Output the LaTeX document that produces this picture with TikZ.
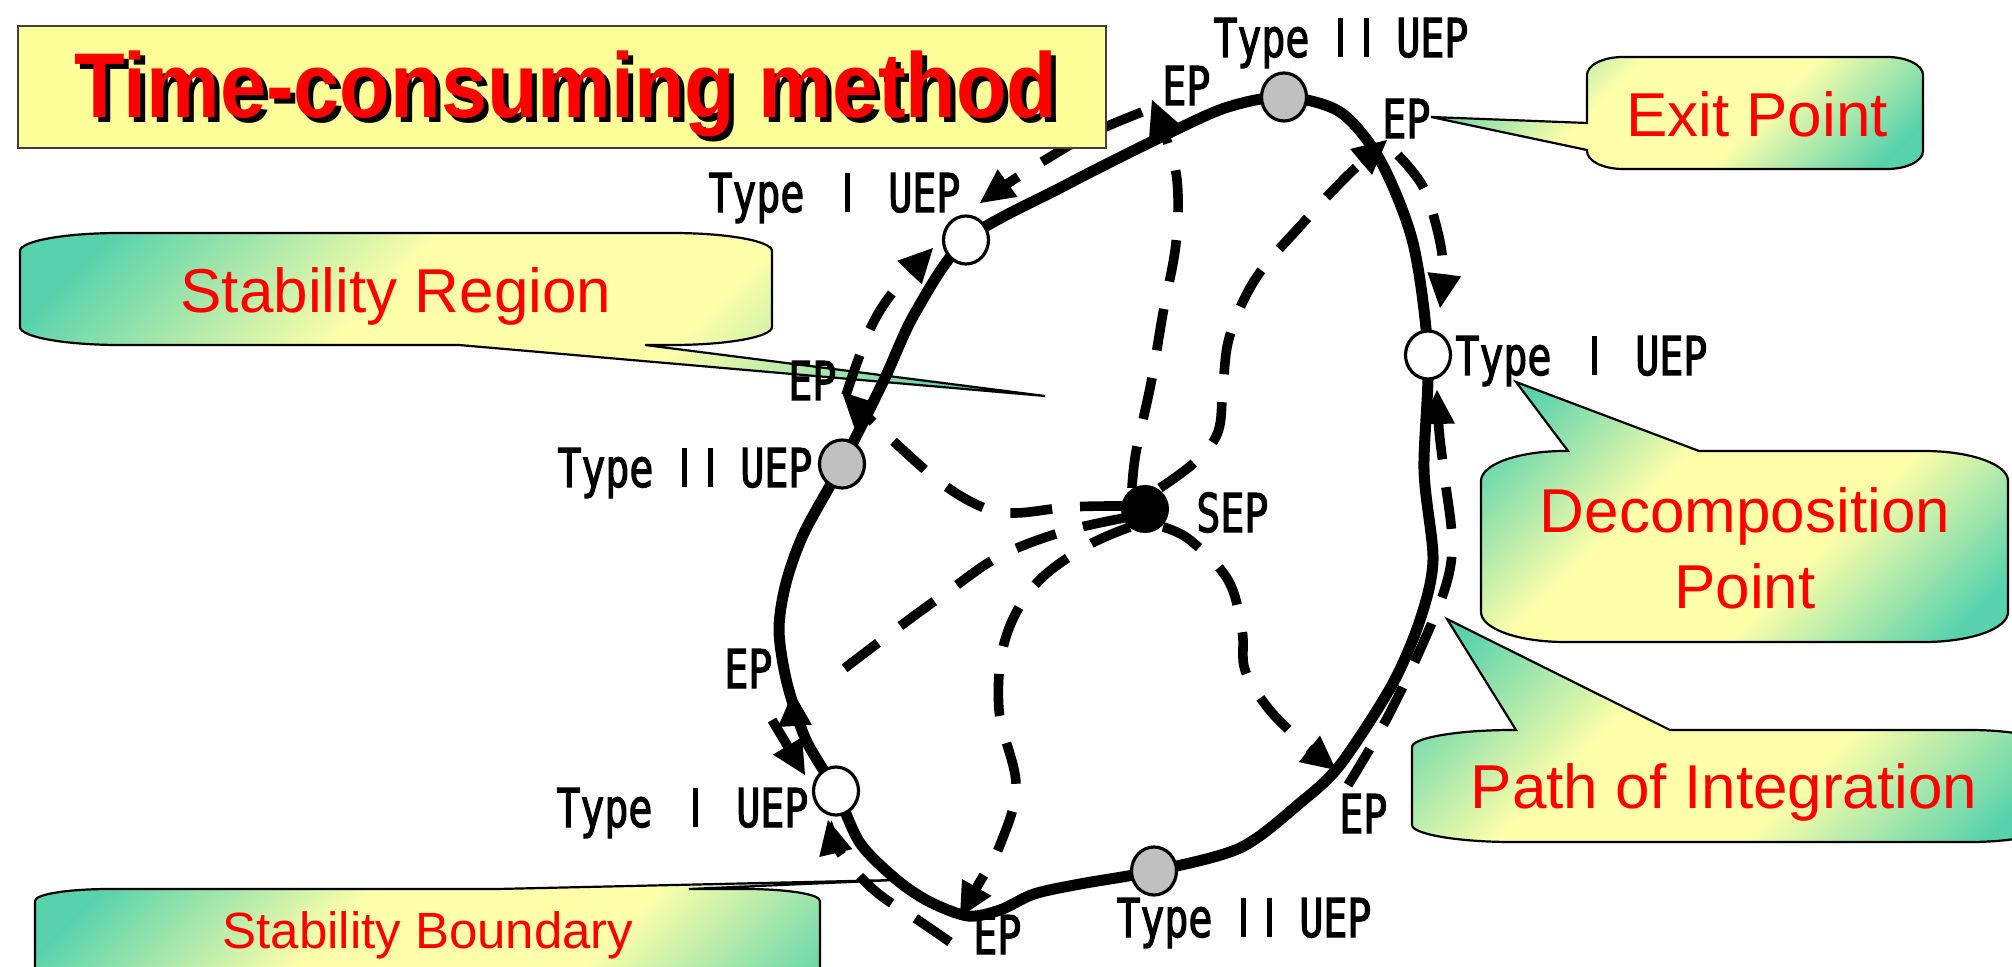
\documentclass[tikz,border=0pt]{standalone}
\usepackage{fontspec}
\setmainfont{Liberation Sans}
\newfontfamily\labelfont[FakeStretch=0.745,FakeBold=2]{DejaVu Sans Mono}
\newfontfamily\titlefont[FakeStretch=0.9]{Liberation Sans}
\usetikzlibrary{arrows.meta,shapes.geometric}
\definecolor{cteal}{RGB}{88,210,172}
\definecolor{cyel}{RGB}{255,255,170}
\definecolor{titlefill}{RGB}{255,255,153}
\definecolor{uepgray}{RGB}{192,192,192}
% teal corners, broad yellow middle
\pgfdeclareverticalshading{calshade}{100bp}{color(0bp)=(cteal); color(20bp)=(cteal);
  color(40bp)=(cyel); color(60bp)=(cyel); color(80bp)=(cteal); color(100bp)=(cteal)}
% plain upright bar used for the roman numeral in the labels
\newcommand{\romI}{\makebox[13pt]{\rule{2.8pt}{19.5pt}}}

\begin{document}
\begin{tikzpicture}[x=0.5pt, y=-0.5pt,
  boundary/.style={line width=5.5pt, line join=round},
  dashline/.style={line width=4.8pt, dash pattern=on 21pt off 14pt},
  tipped/.style={-{Triangle[length=17pt,width=17pt,line width=0pt]}},
  uepone/.style={ellipse, draw, line width=1.6pt, fill=white, minimum width=22.5pt, minimum height=24pt, inner sep=0pt},
  ueptwo/.style={uepone, fill=uepgray},
  sepdot/.style={ellipse, fill=black, minimum width=24pt, minimum height=24pt, inner sep=0pt},
  lbl/.style={font=\labelfont\fontsize{26.75pt}{30pt}\selectfont, inner sep=0pt, anchor=base west},
  calloutbox/.style={draw=black, line width=1.1pt, shading=calshade, shading angle=45},
  callouttext/.style={text=red, font=\fontsize{31pt}{38pt}\selectfont, inner sep=0pt, anchor=base},
  titletext/.style={anchor=base, inner sep=0pt, font=\titlefont\fontsize{46pt}{54pt}\selectfont\bfseries},
]
\clip (0,0) rectangle (2012,967);

% ---------- callouts ----------
\path[calloutbox] (1623,57) -- (1887,57) .. controls (1907,57) and (1923,65) .. (1923,75)
  -- (1923,151) .. controls (1923,161) and (1907,169) .. (1887,169) -- (1623,169)
  .. controls (1603,169) and (1587,161) .. (1587,151) -- (1587,150) -- (1431,117) -- (1587,123)
  -- (1587,75) .. controls (1587,65) and (1603,57) .. (1623,57) -- cycle;

\path[calloutbox] (120,233) -- (672,233) .. controls (727,233) and (772,241) .. (772,251)
  -- (772,327) .. controls (772,337) and (727,345) .. (672,345) -- (645,345) -- (1045,396)
  -- (459,345) -- (120,345) .. controls (65,345) and (20,337) .. (20,327)
  -- (20,251) .. controls (20,241) and (65,233) .. (120,233) -- cycle;

\path[calloutbox] (1565,451) -- (1568,451) -- (1516,382) -- (1699,451) -- (1924,451)
  .. controls (1970,451) and (2008,464) .. (2008,481) -- (2008,612)
  .. controls (2008,629) and (1970,642) .. (1924,642) -- (1565,642)
  .. controls (1519,642) and (1481,629) .. (1481,612) -- (1481,481)
  .. controls (1481,464) and (1519,451) .. (1565,451) -- cycle;

\path[calloutbox] (1512,730) -- (1516,730) -- (1447,619) -- (1670,730) -- (1970,730)
  .. controls (2014,730) and (2050,738) .. (2050,747) -- (2050,825)
  .. controls (2050,834) and (2014,842) .. (1970,842) -- (1512,842)
  .. controls (1457,842) and (1412,834) .. (1412,825) -- (1412,747)
  .. controls (1412,738) and (1457,730) .. (1512,730) -- cycle;

\path[calloutbox] (110,889) -- (497,889) -- (896,880) -- (689,889) -- (745,889)
  .. controls (786,889) and (820,894) .. (820,901) -- (820,988)
  .. controls (820,995) and (786,1000) .. (745,1000) -- (110,1000)
  .. controls (69,1000) and (35,995) .. (35,988) -- (35,901)
  .. controls (35,894) and (69,889) .. (110,889) -- cycle;

\node[callouttext] (exitT) at (1757,137) {Exit Point};
\node[callouttext] (regionT) at (396,313) {Stability Region};
\node[callouttext] (decompT) at (1745,532) {Decomposition};
\node[callouttext] (decompTb) at (1745,608) {Point};
\node[callouttext] (pathT) at (1724,808) {Path of Integration};
\node[callouttext, font=\fontsize{25.5pt}{30pt}\selectfont] (boundT) at (428,948) {Stability Boundary};

% ---------- equilibrium points ----------
\coordinate (sepc) at (1145,509);
\coordinate (epTL) at (1152,100);
\coordinate (epTR) at (1387,140);
\coordinate (epL) at (842,392);
\coordinate (epLL) at (793,692);
\coordinate (epB) at (960,917);
\coordinate (epBR) at (1336,770);
\coordinate (tipUL) at (980,203);
\coordinate (tipULb) at (933,248);
\coordinate (tipR) at (1440,308);
\coordinate (tipRb) at (1437,390);
\coordinate (tipLL) at (828,820);
\coordinate (tipLLb) at (805,775);

% ---------- integration paths from the SEP ----------
\draw[dashline,tipped] plot[smooth,tension=0.6] coordinates {(1132,488) (1136,452) (1151,383) (1163,313) (1176,243) (1177,180) (1165,135) (epTL)};
\draw[dashline,tipped] plot[smooth,tension=0.6] coordinates {(1160,488) (1195,462) (1218,432) (1223,385) (1230,335) (1256,278) (1303,223) (1348,175) (epTR)};
\draw[dashline,tipped] plot[smooth,tension=0.6] coordinates {(1122,506) (1070,507) (1015,513) (982,507) (940,482) (890,438) (epL)};
\draw[dashline] plot[smooth,tension=0.6] coordinates {(1124,518) (1062,532) (1000,556) (950,590) (895,630) (824,684)};
\draw[tipped] (795,726) -- (epLL);
\draw[dashline,tipped] plot[smooth,tension=0.6] coordinates {(1130,527) (1085,547) (1035,585) (1005,640) (999,710) (1016,785) (1000,845) (978,885) (epB)};
\draw[dashline,tipped] plot[smooth,tension=0.6] coordinates {(1163,527) (1190,540) (1228,580) (1242,630) (1245,670) (1268,708) (1300,740) (epBR)};

% ---------- paths sliding along the boundary to the type I UEPs ----------
\draw[dashline,tipped] plot[smooth,tension=0.6] coordinates {(1142,112) (1090,134) (1045,160) (1010,182) (tipUL)};
\draw[dashline,tipped] plot[smooth,tension=0.6] coordinates {(846,395) (858,360) (872,325) (893,292) (tipULb)};
\draw[dashline,tipped] plot[smooth,tension=0.6] coordinates {(1398,155) (1422,185) (1436,225) (1443,265) (tipR)};
\draw[dashline,tipped] plot[smooth,tension=0.6] coordinates {(1348,785) (1385,722) (1420,650) (1446,585) (1452,540) (1445,480) (1439,430) (tipRb)};
\draw[dashline,tipped] plot[smooth,tension=0.6] coordinates {(950,942) (915,918) (880,895) (852,868) (836,845) (tipLL)};
\draw[dashline,tipped] (772,720) -- (tipLLb);

% ---------- stability boundary ----------
\draw[boundary] plot[smooth cycle,tension=0.5] coordinates {
  (1284,97) (1340,112) (1380,160) (1413,243) (1428,355) (1424,470) (1433,560)
  (1420,620) (1392,685) (1340,765) (1300,803) (1240,848) (1154,871) (1080,884)
  (1034,894) (1000,910) (968,916) (930,902) (897,880) (860,843) (836,791)
  (806,740) (787,683) (779,630) (786,583) (804,533) (842,464) (884,380)
  (915,313) (966,240) (1062,187) (1155,140) (1225,108)};

\node[ueptwo] (uepTop) at (1284,97) {};
\node[uepone] (uepUL) at (966,240) {};
\node[ueptwo] (uepLeft) at (842,464) {};
\node[uepone] (uepRight) at (1428,355) {};
\node[uepone] (uepLL) at (836,791) {};
\node[ueptwo] (uepBottom) at (1154,871) {};
\node[sepdot] (sep) at (sepc) {};

% ---------- labels ----------
\node[lbl] (lTop) at (1213,57) {Type\hspace{9pt}\romI\romI\hspace{8.5pt}UEP};
\node[lbl] (lUL) at (708,212) {Type\hspace{15pt}\romI\hspace{14pt}UEP};
\node[lbl] (lLeft) at (557,487) {Type\hspace{9pt}\romI\romI\hspace{8.5pt}UEP};
\node[lbl] (lRight) at (1455,375) {Type\hspace{15pt}\romI\hspace{14pt}UEP};
\node[lbl] (lLL) at (556,827) {Type\hspace{15pt}\romI\hspace{14pt}UEP};
\node[lbl] (lBottom) at (1116,937) {Type\hspace{9pt}\romI\romI\hspace{8.5pt}UEP};
\node[lbl] (lSep) at (1196,532) {SEP};
\node[lbl] (eTL) at (1162,105) {EP};
\node[lbl] (eTR) at (1382,138) {EP};
\node[lbl] (eL) at (788,400) {EP};
\node[lbl] (eLL) at (724,688) {EP};
\node[lbl] (eB) at (973,954) {EP};
\node[lbl] (eBR) at (1339,833) {EP};

% ---------- title ----------
\draw[fill=titlefill, draw=black!75, line width=0.8pt] (18,26) rectangle (1106,148);
\node[titletext, text=black] (titleShadow) at (571,123) {Time-consuming method};
\node[titletext, text=red] (title) at (566,118) {Time-consuming method};
\end{tikzpicture}
\end{document}
